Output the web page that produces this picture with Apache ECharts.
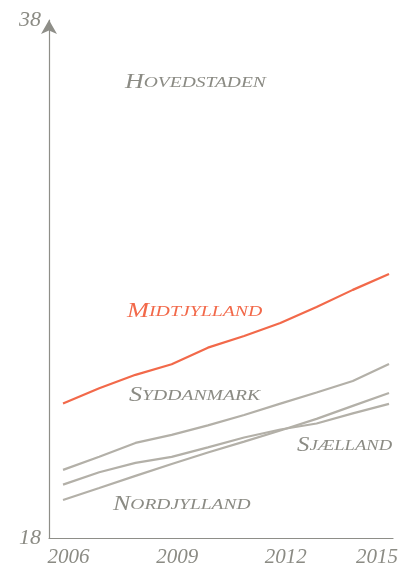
<!DOCTYPE html>
<html>
<head>
<meta charset="utf-8">
<script src="https://cdn.jsdelivr.net/npm/echarts@6/dist/echarts.min.js"></script>
<style>
  html, body { margin: 0; padding: 0; background: #fff; }
  #chart { width: 410px; height: 568px; }
</style>
</head>
<body>
<div id="chart"></div>
<script>
// Years on the horizontal axis
const years = [2006, 2007, 2008, 2009, 2010, 2011, 2012, 2013, 2014, 2015];
const yearTicks = [2006, 2009, 2012, 2015];

// Regional values per year
const midtjylland = [23.19, 23.78, 24.30, 24.71, 25.35, 25.80, 26.30, 26.92, 27.58, 28.19];
const syddanmark  = [20.63, 21.14, 21.67, 21.98, 22.35, 22.75, 23.19, 23.62, 24.06, 24.72];
const sjaelland   = [20.06, 20.54, 20.90, 21.13, 21.50, 21.88, 22.19, 22.42, 22.81, 23.18];
const nordjylland = [19.47, 19.93, 20.40, 20.86, 21.30, 21.72, 22.15, 22.60, 23.10, 23.60];

// Axis range and the tick labels shown on it
const yMin = 18;
const yMax = 38;
const yTickLabels = [18, 38];

const regionNames = ['Hovedstaden', 'Midtjylland', 'Syddanmark', 'Sjælland', 'Nordjylland'];

const GREY_LINE = '#b3b0a8';
const GREY_TEXT = '#8b8b84';
const ORANGE = '#f2694a';
const AXIS = '#8e8e88';
const FONT = '"Liberation Serif", "DejaVu Serif", serif';

// Small-caps look: full-size initial, reduced uppercase for the rest
function smallCaps(name) {
  return '{a|' + name.charAt(0) + '}{b|' + name.slice(1).toUpperCase() + '}';
}
function capsRich(color) {
  return {
    a: { fontFamily: FONT, fontStyle: 'italic', fontSize: 20, color: color },
    b: { fontFamily: FONT, fontStyle: 'italic', fontSize: 15, color: color }
  };
}
function regionLabel(name, x, y, color, stretch) {
  return {
    type: 'text',
    x: x,
    y: y,
    scaleX: stretch,
    originX: 0,
    style: {
      text: smallCaps(name),
      rich: capsRich(color),
      fill: color
    }
  };
}

function pairs(values) {
  return years.map(function (yr, i) { return [yr, values[i]]; });
}

function lineSeries(name, values, color) {
  return {
    name: name,
    type: 'line',
    data: pairs(values),
    symbol: 'none',
    smooth: false,
    lineStyle: { color: color, width: 2.2 },
    itemStyle: { color: color },
    emphasis: { disabled: true },
    z: color === ORANGE ? 5 : 3
  };
}

const chart = echarts.init(document.getElementById('chart'), null, { renderer: 'canvas' });

chart.setOption({
  animation: false,
  backgroundColor: '#ffffff',
  grid: { left: 49, right: 17, top: 20, bottom: 28, containLabel: false },
  xAxis: {
    type: 'value',
    min: 2005.613,
    max: 2015.11,
    axisLine: { show: true, lineStyle: { color: AXIS, width: 1.2 } },
    axisTick: { show: false },
    splitLine: { show: false },
    axisLabel: {
      customValues: yearTicks,
      margin: 9,
      fontFamily: FONT,
      fontStyle: 'italic',
      fontSize: 21,
      color: GREY_TEXT,
      formatter: function (v) {
        return v === yearTicks[yearTicks.length - 1] ? '{e|' + v + '}' : '{n|' + v + '}';
      },
      rich: {
        n: { fontFamily: FONT, fontStyle: 'italic', fontSize: 21, color: GREY_TEXT, padding: [0, 0, 0, 11] },
        e: { fontFamily: FONT, fontStyle: 'italic', fontSize: 21, color: GREY_TEXT, padding: [0, 24, 0, 0] }
      }
    }
  },
  yAxis: {
    type: 'value',
    min: yMin,
    max: yMax,
    interval: 2,
    axisLine: {
      show: true,
      symbol: ['none', 'arrow'],
      symbolSize: [12, 14],
      lineStyle: { color: AXIS, width: 1.2 }
    },
    axisTick: { show: false },
    splitLine: { show: false },
    axisLabel: {
      margin: 8,
      fontFamily: FONT,
      fontStyle: 'italic',
      fontSize: 22,
      color: GREY_TEXT,
      formatter: function (v) {
        return yTickLabels.indexOf(v) >= 0 ? String(v) : '';
      }
    }
  },
  series: [
    lineSeries(regionNames[4], nordjylland, GREY_LINE),
    lineSeries(regionNames[3], sjaelland, GREY_LINE),
    lineSeries(regionNames[2], syddanmark, GREY_LINE),
    lineSeries(regionNames[1], midtjylland, ORANGE)
  ],
  graphic: [
    regionLabel(regionNames[0], 125, 73, GREY_TEXT, 1.3),
    regionLabel(regionNames[1], 127, 302, ORANGE, 1.32),
    regionLabel(regionNames[2], 129, 386, GREY_TEXT, 1.31),
    regionLabel(regionNames[3], 297, 436, GREY_TEXT, 1.24),
    regionLabel(regionNames[4], 113, 495, GREY_TEXT, 1.3)
  ]
});
</script>
</body>
</html>
